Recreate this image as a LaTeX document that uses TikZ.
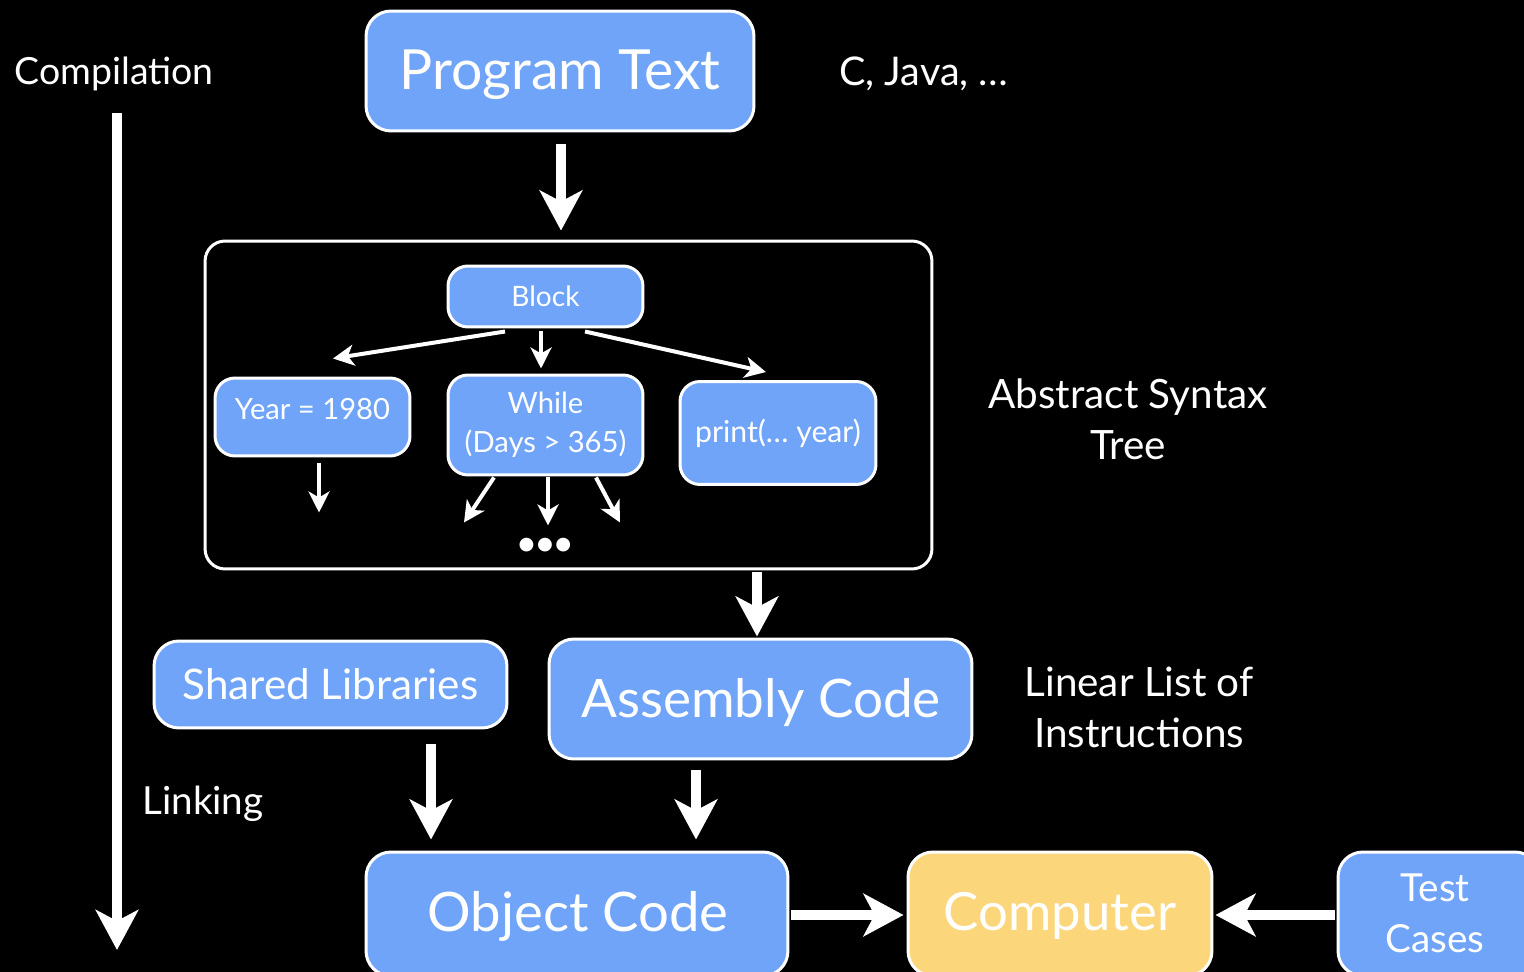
\documentclass[tikz,border=0pt]{standalone}
\usepackage{fontspec}
\setmainfont{Lato}
\usetikzlibrary{arrows.meta}
\definecolor{boxblue}{RGB}{112,164,248}
\definecolor{boxgold}{RGB}{252,214,122}
\begin{document}
\begin{tikzpicture}[x=0.02cm,y=-0.02cm,
  box/.style={draw=white, line width=0.06cm, fill=boxblue, rounded corners=0.5cm,
    text=white, inner sep=0pt, align=center},
  leaf/.style={box, rounded corners=0.4cm},
  frame/.style={draw=white, line width=0.06cm, fill=black, rounded corners=0.4cm, inner sep=0pt},
  lbl/.style={text=white, inner sep=0pt, align=center},
  bigarrow/.style={white, line width=0.2cm, -{Stealth[length=0.8cm,width=0.85cm,inset=0.22cm]}},
  thinarrow/.style={white, line width=0.08cm, -{Stealth[length=0.42cm,width=0.42cm,inset=0.12cm]}}
]
% canvas
\fill[black] (0,0) rectangle (1524,972);
\clip (0,0) rectangle (1524,972);

% side labels
\node[lbl, font=\fontsize{21.3}{25}\selectfont] (comp) at (114,74) {Compilation};
\node[lbl, font=\fontsize{22.5}{25}\selectfont] (lang) at (924,74) {C, Java, \dots};
\node[lbl, font=\fontsize{23}{29}\selectfont] (astlbl) at (1128,419) {Abstract Syntax\\Tree};
\node[lbl, font=\fontsize{23}{29}\selectfont] (linlbl) at (1139,707) {Linear List of\\Instructions};
\node[lbl, font=\fontsize{22}{25}\selectfont] (link) at (203,804) {Linking};

% compilation direction
\coordinate (c0) at (117,113);
\coordinate (c1) at (117,950);
\draw[bigarrow] (c0) -- (c1);

% source
\node[box, minimum width=7.76cm, minimum height=2.4cm] (ptext) at (560,71) {};
\node[lbl, font=\fontsize{31.5}{38}\selectfont] (ptexttext) at (560,75) {Program Text};

% abstract syntax tree
\node[frame, minimum width=14.54cm, minimum height=6.56cm] (ast) at (568.5,405) {};
\node[leaf, minimum width=3.9cm, minimum height=1.22cm, font=\fontsize{16}{19}\selectfont] (block) at (545.5,296.5) {Block};
\node[leaf, minimum width=3.9cm, minimum height=1.56cm] (year) at (312.5,417) {};
\node[lbl, font=\fontsize{16.6}{19}\selectfont] (yeartext) at (312.5,409) {Year = 1980};
\node[leaf, minimum width=3.9cm, minimum height=2.0cm, font=\fontsize{16.6}{22}\selectfont] (while) at (545.5,425) {While\\(Days > 365)};
\node[leaf, minimum width=3.92cm, minimum height=2.06cm, font=\fontsize{17.2}{19}\selectfont] (print) at (778,433) {print(\dots\ year)};
\node[lbl, font=\fontsize{18}{19}\selectfont\bfseries] (dots) at (545,546) {\textbullet\textbullet\textbullet};

\draw[thinarrow] ([shift={(-40.5,3)}]block.south) -- ([shift={(20.5,-18)}]year.north);
\draw[thinarrow] ([shift={(-4.5,3)}]block.south) -- ([shift={(-4.5,-5)}]while.north);
\draw[thinarrow] ([shift={(39.5,3)}]block.south) -- ([shift={(-12,-8)}]print.north);
\draw[thinarrow] ([shift={(6.5,6)}]year.south) -- ++(0,49);
\draw[thinarrow] ([shift={(-51.5,1)}]while.south) -- ++(-30,45);
\draw[thinarrow] ([shift={(2.5,1)}]while.south) -- ++(0,48);
\draw[thinarrow] ([shift={(50.5,1)}]while.south) -- ++(24,45);

% lower stages
\node[box, minimum width=7.06cm, minimum height=1.74cm, font=\fontsize{24}{28}\selectfont] (shared) at (330.5,684.5) {Shared Libraries};
\node[box, minimum width=8.46cm, minimum height=2.4cm] (asm) at (760.5,699) {};
\node[lbl, font=\fontsize{30.2}{36}\selectfont] (asmtext) at (761,703) {Assembly Code};
\node[box, minimum width=8.44cm, minimum height=2.48cm] (obj) at (577,914) {};
\node[lbl, font=\fontsize{31}{36}\selectfont] (objtext) at (578,916) {Object Code};
\node[box, fill=boxgold, minimum width=6.08cm, minimum height=2.48cm] (cpu) at (1060,914) {};
\node[lbl, font=\fontsize{30}{36}\selectfont] (cputext) at (1060,916) {Computer};
\node[box, minimum width=4.04cm, minimum height=2.48cm] (tests) at (1439,914) {};
\node[lbl, font=\fontsize{22}{29}\selectfont] (teststext) at (1435,913) {Test\\Cases};

% flow between stages
\draw[bigarrow, shorten <=0.24cm, shorten >=0.18cm] (ptext.south -| 561,0) -- (ast.north -| 561,0);
\draw[bigarrow] ([shift={(0,2)}]ast.south -| asm.north) ++(-3.5,0) -- ++(0,64);
\draw[bigarrow] ([shift={(100.5,15)}]shared.south) -- ++(0,95);
\draw[bigarrow] ([shift={(-64.5,10)}]asm.south) -- ++(0,69);
\draw[bigarrow] ([shift={(2,1)}]obj.east) -- ([shift={(-3,1)}]cpu.west);
\draw[bigarrow] ([shift={(-2,1)}]tests.west) -- ([shift={(2,1)}]cpu.east);
\end{tikzpicture}
\end{document}
